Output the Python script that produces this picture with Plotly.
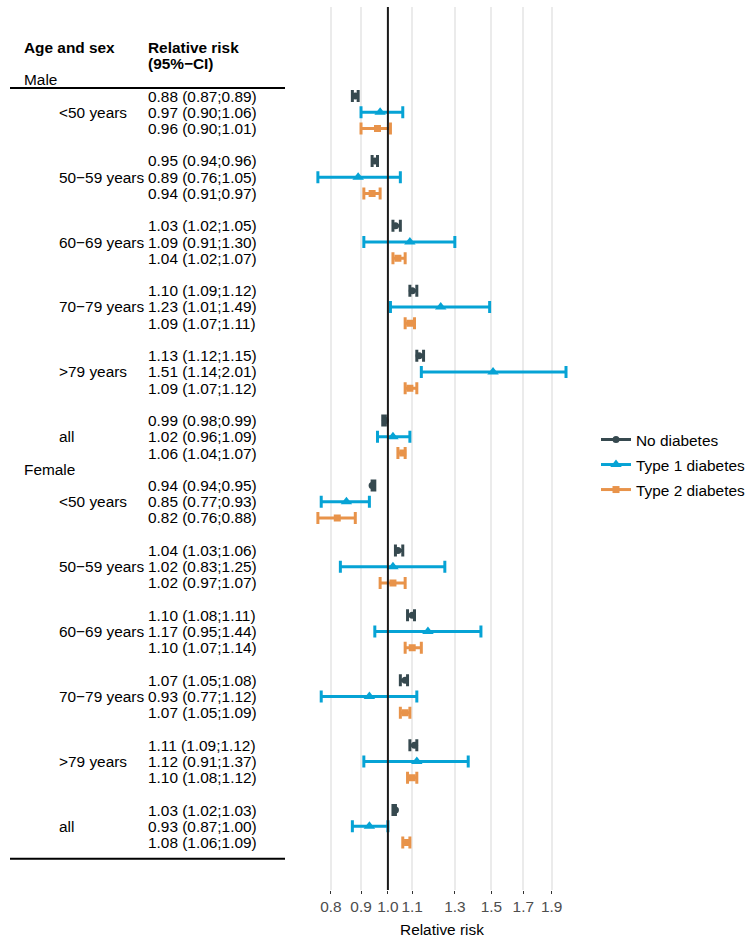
import plotly.graph_objects as go
import math

# ---------------- data ----------------
sexes = ["Male", "Female"]
age_groups = ["<50 years", "50\u221259 years", "60\u221269 years", "70\u221279 years", ">79 years", "all"]
series_names = ["No diabetes", "Type 1 diabetes", "Type 2 diabetes"]

# estimates [sex][age][series]
est = [
    [[0.88, 0.97, 0.96], [0.95, 0.89, 0.94], [1.03, 1.09, 1.04],
     [1.10, 1.23, 1.09], [1.13, 1.51, 1.09], [0.99, 1.02, 1.06]],
    [[0.94, 0.85, 0.82], [1.04, 1.02, 1.02], [1.10, 1.17, 1.10],
     [1.07, 0.93, 1.07], [1.11, 1.12, 1.10], [1.03, 0.93, 1.08]],
]
lower = [
    [[0.87, 0.90, 0.90], [0.94, 0.76, 0.91], [1.02, 0.91, 1.02],
     [1.09, 1.01, 1.07], [1.12, 1.14, 1.07], [0.98, 0.96, 1.04]],
    [[0.94, 0.77, 0.76], [1.03, 0.83, 0.97], [1.08, 0.95, 1.07],
     [1.05, 0.77, 1.05], [1.09, 0.91, 1.08], [1.02, 0.87, 1.06]],
]
upper = [
    [[0.89, 1.06, 1.01], [0.96, 1.05, 0.97], [1.05, 1.30, 1.07],
     [1.12, 1.49, 1.11], [1.15, 2.01, 1.12], [0.99, 1.09, 1.07]],
    [[0.95, 0.93, 0.88], [1.06, 1.25, 1.07], [1.11, 1.44, 1.14],
     [1.08, 1.12, 1.09], [1.12, 1.37, 1.12], [1.03, 1.00, 1.09]],
]
tick_vals = [0.8, 0.9, 1.0, 1.1, 1.3, 1.5, 1.7, 1.9]
tick_text = ["0.8", "0.9", "1.0", "1.1", "1.3", "1.5", "1.7", "1.9"]

# ---------------- styling ----------------
colors = ["#36494F", "#06A3D5", "#E8934A"]
symbols = ["circle", "triangle-up", "square"]
msizes = [7, 10, 7]
FONT = "Liberation Sans, Arial, Helvetica, sans-serif"
FS = 15.4
W, H = 750, 947
TOP, BOT = 7, 890


def row_index(s, a, k):
    base = 0 if s == 0 else 24
    return base + 4 * a + k


fig = go.Figure()

for k in range(3):
    xs, ys, ep, em = [], [], [], []
    for s in range(2):
        for a in range(len(age_groups)):
            e = est[s][a][k]
            xs.append(e)
            ys.append(row_index(s, a, k))
            ep.append(upper[s][a][k] - e)
            em.append(e - lower[s][a][k])
    fig.add_trace(go.Scatter(
        x=xs, y=ys, mode="markers", showlegend=False,
        marker=dict(color=colors[k], symbol=symbols[k], size=msizes[k]),
        error_x=dict(type="data", symmetric=False, array=ep, arrayminus=em,
                     color=colors[k], thickness=3, width=6),
        hoverinfo="skip",
    ))
    # legend entry
    fig.add_trace(go.Scatter(
        x=[None], y=[None], mode="lines+markers", name=series_names[k],
        line=dict(color=colors[k], width=3),
        marker=dict(color=colors[k], symbol=symbols[k], size=msizes[k]),
        legendgroup=series_names[k],
    ))

annotations = []


def add_text(txt, px, k, bold=False):
    annotations.append(dict(
        text=("<b>%s</b>" % txt) if bold else txt,
        x=(px - 2) / W, xref="paper", xanchor="left",
        y=k, yref="y", yanchor="middle",
        showarrow=False, font=dict(family=FONT, size=FS, color="black"),
    ))


add_text("Age and sex", 24, -3, bold=True)
add_text("Relative risk", 148, -3, bold=True)
add_text("(95%\u2212CI)", 148, -2, bold=True)

for s in range(2):
    sex_row = -1 if s == 0 else 23
    add_text(sexes[s], 24, sex_row)
    for a in range(len(age_groups)):
        add_text(age_groups[a], 59, row_index(s, a, 1))
        for k in range(3):
            txt = "%.2f (%.2f;%.2f)" % (est[s][a][k], lower[s][a][k], upper[s][a][k])
            add_text(txt, 148, row_index(s, a, k))

shapes = [
    dict(type="line", xref="paper", yref="y", x0=10 / W, x1=285 / W, y0=-0.5, y1=-0.5,
         line=dict(color="black", width=2)),
    dict(type="line", xref="paper", yref="y", x0=10 / W, x1=285 / W, y0=47, y1=47,
         line=dict(color="black", width=2)),
    dict(type="line", xref="x", yref="paper", x0=1.0, x1=1.0, y0=0, y1=1,
         line=dict(color="#1A1A1A", width=2), layer="above"),
]

lo_ln, hi_ln = -0.3230, 0.7467
pxu = 16.23
k_top = (TOP - 96) / pxu
k_bot = (BOT - 96) / pxu

fig.update_layout(
    width=W, height=H,
    margin=dict(l=0, r=0, t=TOP, b=H - BOT, autoexpand=False),
    paper_bgcolor="white", plot_bgcolor="white",
    font=dict(family=FONT, size=FS, color="black"),
    xaxis=dict(
        type="log", domain=[305.5 / W, 578.4 / W],
        range=[lo_ln / math.log(10), hi_ln / math.log(10)],
        tickvals=tick_vals, ticktext=tick_text,
        showgrid=True, gridcolor="#EBEBEB", gridwidth=1.5,
        ticks="outside", ticklen=3, tickcolor="#333333", tickwidth=1,
        tickfont=dict(family=FONT, size=FS, color="#4D4D4D"),
        showline=False, zeroline=False, automargin=False,
        title=dict(text="Relative risk", font=dict(family=FONT, size=FS, color="black"), standoff=9),
    ),
    yaxis=dict(
        range=[k_bot, k_top], visible=False, showgrid=False, zeroline=False,
    ),
    legend=dict(
        x=596 / W, xanchor="left", y=(BOT - 465) / (BOT - TOP), yanchor="middle",
        font=dict(family=FONT, size=FS, color="black"),
        bgcolor="rgba(0,0,0,0)", tracegroupgap=2, itemwidth=30,
    ),
    annotations=annotations,
    shapes=shapes,
)

fig.write_html("out.html")
